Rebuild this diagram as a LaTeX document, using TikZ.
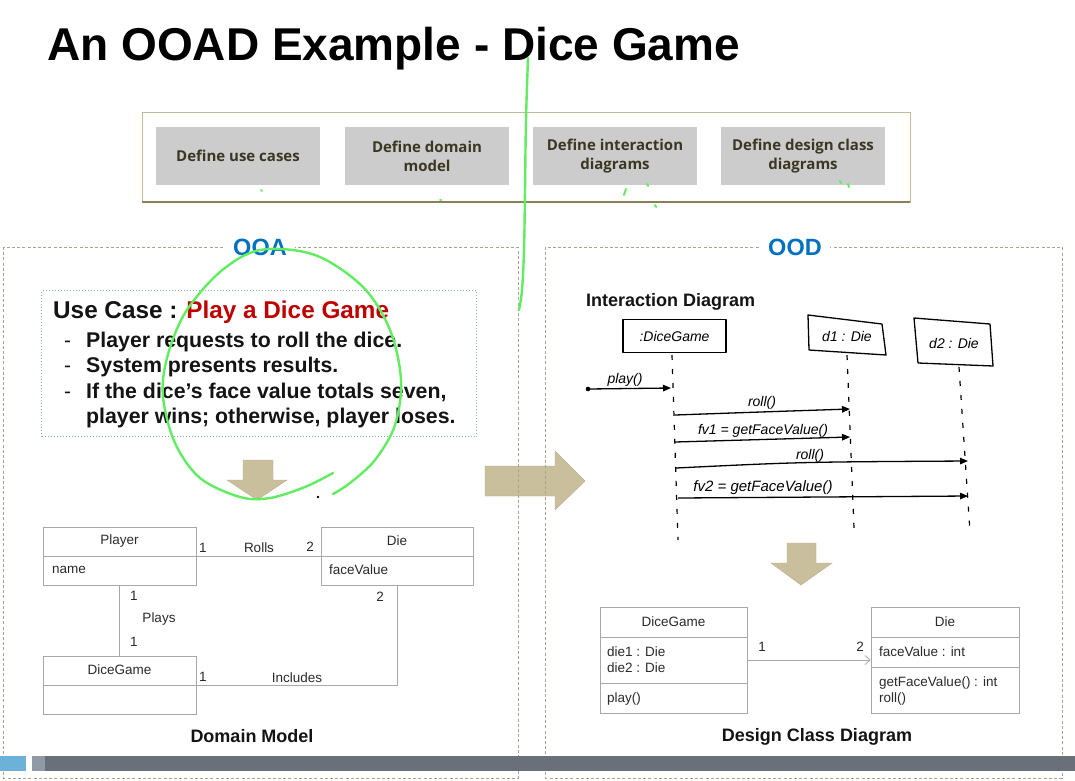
\documentclass[tikz,border=0pt]{standalone}
\usepackage{fontspec}
\setmainfont{Liberation Sans}
\newfontfamily\stepfont{Open Sans}
\usetikzlibrary{arrows.meta}
\definecolor{dashcol}{HTML}{A8A38A}
\definecolor{tanfill}{HTML}{C9BF9C}
\definecolor{tanedge}{HTML}{B9AE88}
\definecolor{boxgray}{HTML}{CCCCCC}
\definecolor{olivetext}{HTML}{3B3722}
\definecolor{oblue}{HTML}{0070C0}
\definecolor{ucred}{HTML}{C00000}
\definecolor{ucblue}{HTML}{7FAFD8}
\definecolor{clsline}{HTML}{A8A8A8}
\definecolor{clstxt}{HTML}{2A2A2A}
\definecolor{inkgreen}{HTML}{62EC62}
\definecolor{bardark}{HTML}{6A7079}
\definecolor{barblue}{HTML}{6CB2D8}
\definecolor{barlight}{HTML}{8F9AA6}
\definecolor{frameline}{HTML}{C2B995}
\definecolor{frameshadow}{HTML}{8C7F55}
\definecolor{textblack}{HTML}{141414}
\newcommand{\fsz}[2]{\fontsize{#1}{#2}\selectfont}
\newcommand{\handfont}{\itshape\fontsize{14}{16}\selectfont}
\tikzset{
  stepbox/.style={fill=boxgray, minimum width=164pt, minimum height=58pt, align=center, text=olivetext, font=\stepfont\bfseries\fsz{15}{19}},
  section/.style={draw=dashcol, line width=1pt, dash pattern=on 3pt off 2.2pt},
  seclabel/.style={fill=white, text=oblue, font=\bfseries\fsz{23.5}{26}, inner xsep=8pt, inner ysep=1pt},
  blockarrow/.style={fill=tanfill, draw=tanedge, line width=0.4pt},
  ucline/.style={anchor=base west, font=\bfseries\fsz{21.3}{25}, text=textblack, inner sep=0pt},
  cls/.style={draw=clsline, line width=0.8pt},
  clsl/.style={draw=clsline, line width=0.8pt},
  clstext/.style={font=\fsz{13.5}{16}, text=clstxt, inner sep=0pt},
  caption/.style={font=\bfseries\fsz{18}{20}, text=textblack, inner sep=0pt},
  lifehead/.style={font=\handfont, inner sep=0pt},
  lifeline/.style={line width=1.2pt, dash pattern=on 5pt off 9pt},
  handbox/.style={line width=1.3pt, line join=round},
  msg/.style={line width=1.3pt, -{Triangle[length=8pt,width=6.5pt]}},
  msglabel/.style={font=\handfont, inner sep=1pt},
  inkline/.style={draw=inkgreen, line width=2.4pt, line cap=round, line join=round},
}
\begin{document}
\begin{tikzpicture}[x=1pt,y=-1pt]
\useasboundingbox (0,0) rectangle (1075,780);
\fill[white] (0,0) rectangle (1075,780);

% title
\node[anchor=base west, font=\bfseries\fsz{46}{50}, text=black, inner sep=0pt] (title) at (47,60) {An OOAD Example - Dice Game};

% process frame
\draw[draw=frameline, line width=0.8pt, fill=white] (142,112) rectangle (910,202);
\draw[draw=frameshadow, line width=2pt] (142,202) -- (910,202);
\node[stepbox] (s1) at (238,156) {Define use cases};
\node[stepbox] (s2) at (427,156) {Define domain\\model};
\node[stepbox] (s3) at (615,156) {Define interaction\\diagrams};
\node[stepbox] (s4) at (803,156) {Define design class\\diagrams};

% block arrow between sections (under the dashed frames)
\path[blockarrow] (485,466) -- (555,466) -- (555,451) -- (585,481) -- (555,510) -- (555,496) -- (485,496) -- cycle;

% sections
\draw[section] (3,247) rectangle (518,778);
\draw[section] (545,247) rectangle (1062,778);
\node[seclabel] (ooa) at (260,247) {OOA};
\node[seclabel] (ood) at (795,247) {OOD};

% use case
\node[draw=ucblue, dotted, line width=1pt, minimum width=435pt, minimum height=146pt, anchor=north west, inner sep=0pt] (uc) at (41,290) {};
\node[ucline, font=\bfseries\fsz{24.3}{26}] (uct) at (53,318) {Use Case : \textcolor{ucred}{Play a Dice Game}};
\node[ucline, font=\fsz{21}{25}] (b1) at (64,347) {-};
\node[ucline] (u1) at (86,347) {Player requests to roll the dice.};
\node[ucline, font=\fsz{21}{25}] (b2) at (64,372) {-};
\node[ucline] (u2) at (86,372) {System presents results.};
\node[ucline, font=\fsz{21}{25}] (b3) at (64,398) {-};
\node[ucline] (u3) at (86,398) {If the dice’s face value totals seven,};
\node[ucline] (u4) at (86,423) {player wins; otherwise, player loses.};

% down arrow OOA
\path[blockarrow] (243,460) -- (273,460) -- (273,480) -- (287,480) -- (257,500) -- (227,480) -- (243,480) -- cycle;

% domain model
\node[cls, minimum width=153pt, minimum height=58pt, inner sep=0pt] (player) at (119.5,556) {};
\draw[clsl] (player.west) -- (player.east);
\node[clstext] (playern) at (119.5,541) {Player};
\node[clstext, anchor=west] (playera) at (52,570) {name};
\node[cls, minimum width=152pt, minimum height=58pt, inner sep=0pt] (die) at (397,556) {};
\draw[clsl] (die.west) -- (die.east);
\node[clstext] (dien) at (397,541) {Die};
\node[clstext, anchor=west] (diea) at (329,570) {faceValue};
\node[cls, minimum width=153pt, minimum height=58pt, inner sep=0pt] (dg) at (119.5,685) {};
\draw[clsl] (dg.west) -- (dg.east);
\node[clstext] (dgn) at (119.5,670) {DiceGame};
\draw[clsl] (player.east) -- (die.west);
\draw[clsl] (player.south) -- (dg.north);
\draw[clsl] (dg.east) -| (die.south);
\node[clstext] (m1) at (203,548) {1};
\node[clstext] (rolls) at (259,548) {Rolls};
\node[clstext] (m2) at (310,547) {2};
\node[clstext] (m3) at (134,596) {1};
\node[clstext] (plays) at (159,619) {Plays};
\node[clstext] (m4) at (134,642) {1};
\node[clstext] (m5) at (380,597) {2};
\node[clstext] (m6) at (203,677) {1};
\node[clstext] (incl) at (297,678) {Includes};
\node[caption] (dmcap) at (252,736) {Domain Model};

% interaction diagram
\node[caption, anchor=base west] (idcap) at (586,306) {Interaction Diagram};
\node[draw, handbox, minimum width=103pt, minimum height=33pt, inner sep=0pt, font=\handfont] (sg) at (674.5,336) {:DiceGame};
\node[lifehead] (d1) at (847,336) {d1 : Die};
\draw[handbox] (808,315) -- (882,324) -- (886,355) -- (809,350) -- cycle;
\node[lifehead] (d2) at (954,343) {d2 : Die};
\draw[handbox] (914,318) -- (990,324) -- (993,366) -- (918,363) -- cycle;
\coordinate (l1a) at (672,355);
\coordinate (l1b) at (678,540);
\coordinate (l2a) at (847,355);
\coordinate (l2b) at (854,528);
\coordinate (l3a) at (959,367);
\coordinate (l3b) at (970,532);
\draw[lifeline] (l1a) -- (l1b);
\draw[lifeline] (l2a) -- (l2b);
\draw[lifeline] (l3a) -- (l3b);
\coordinate (p0) at (588,389);
\coordinate (p1) at (671,388);
\fill (p0) circle (2.3pt);
\draw[msg] (p0) -- (p1);
\node[msglabel, anchor=base] (playl) at (625,383) {play()};
\coordinate (r1a) at (675,415);
\coordinate (r1b) at (850,409);
\draw[msg] (r1a) .. controls (760,412) .. (r1b);
\node[msglabel, anchor=base] (r1l) at (762,406) {roll()};
\coordinate (f1a) at (675,442);
\coordinate (f1b) at (850,437);
\draw[msg] (f1a) -- (f1b);
\node[msglabel, anchor=base] (f1l) at (763,434) {fv1 = getFaceValue()};
\coordinate (r2a) at (676,468);
\coordinate (r2b) at (968,461);
\draw[msg] (r2a) .. controls (800,462) .. (r2b);
\node[msglabel, anchor=base] (r2l) at (810,459) {roll()};
\coordinate (f2a) at (678,498);
\coordinate (f2b) at (968,496);
\draw[msg] (f2a) -- (f2b);
\node[msglabel, anchor=base, font=\itshape\fsz{15}{17}] (f2l) at (763,491) {fv2 = getFaceValue()};

% down arrow OOD
\path[blockarrow] (787,543) -- (816,543) -- (816,563) -- (832,563) -- (801,585) -- (771,563) -- (787,563) -- cycle;

% design class diagram
\node[cls, minimum width=147pt, minimum height=106pt, inner sep=0pt] (dgc) at (673.5,660) {};
\draw[clsl] (dgc.west |- 0,637) -- (dgc.east |- 0,637);
\draw[clsl] (dgc.west |- 0,683) -- (dgc.east |- 0,683);
\node[clstext] (dgcn) at (673.5,622) {DiceGame};
\node[clstext, anchor=west] (dgca1) at (607,652) {die1 : Die};
\node[clstext, anchor=west] (dgca2) at (607,668) {die2 : Die};
\node[clstext, anchor=west] (dgcm) at (607,699) {play()};
\node[cls, minimum width=148pt, minimum height=106pt, inner sep=0pt] (diec) at (945,660) {};
\draw[clsl] (diec.west |- 0,637) -- (diec.east |- 0,637);
\draw[clsl] (diec.west |- 0,667) -- (diec.east |- 0,667);
\node[clstext] (diecn) at (945,622) {Die};
\node[clstext, anchor=west] (dieca) at (879,652) {faceValue : int};
\node[clstext, anchor=west] (diecm1) at (879,683) {getFaceValue() : int};
\node[clstext, anchor=west] (diecm2) at (879,699) {roll()};
\draw[clsl, -{Straight Barb[length=5pt,width=9pt]}] (dgc.east) -- (diec.west);
\node[clstext] (dm1) at (762,647) {1};
\node[clstext] (dm2) at (860,647) {2};
\node[caption] (dccap) at (817,737) {Design Class Diagram};

% bottom bar
\fill[barblue] (0,756) rectangle (26,771);
\fill[barlight] (32,756) rectangle (45,771);
\fill[bardark] (45,756) rectangle (1075,771);

% green ink annotations
\draw[inkline] plot[smooth, tension=0.6] coordinates {(528,58) (526,120) (525,190) (524,250) (522,290) (519,310)};
\draw[inkline] plot[smooth, tension=0.55] coordinates {(333,473) (305,487) (270,498) (240,497) (200,478) (175,443) (163,397) (167,358) (185,313) (220,272) (260,250) (315,255) (363,287) (390,330) (401,380) (395,425) (375,460) (350,483) (333,494)};
\fill[black] (318,497) circle (1.4pt);
\draw[inkline, line width=2pt] (261,190) -- (262,191);
\draw[inkline, line width=2pt] (440,200) -- (441,200);
\draw[inkline, line width=2pt] (624,195) -- (626,189);
\draw[inkline, line width=2pt] (647,184) -- (648,186);
\draw[inkline, line width=2pt] (655,205) -- (656,207);
\draw[inkline, line width=2pt] (840,181) -- (841,183);
\draw[inkline, line width=2pt] (848,184) -- (849,187);
\end{tikzpicture}
\end{document}
